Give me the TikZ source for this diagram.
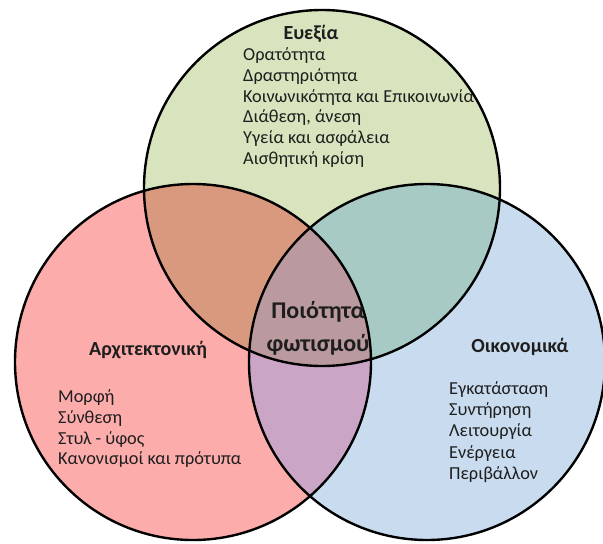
\documentclass[tikz,border=0pt]{standalone}
\usepackage{fontspec}
\setmainfont{Carlito}
\definecolor{gfill}{HTML}{D7E4BD}
\definecolor{rfill}{HTML}{FDACAC}
\definecolor{bfill}{HTML}{C9DCEF}
\definecolor{rgfill}{HTML}{D9997E}
\definecolor{gbfill}{HTML}{A7CAC4}
\definecolor{rbfill}{HTML}{CBA5C6}
\definecolor{allfill}{HTML}{BA9A9E}
\definecolor{txt}{HTML}{1E1E1E}
\tikzset{
  ring/.style={draw=black, line width=2.4pt},
  item/.style={anchor=west, inner sep=0pt, text=txt, font=\fontsize{18.3}{22}\selectfont, text height=0.72em, text depth=0.22em},
  head/.style={anchor=center, inner sep=0pt, text=txt, font=\fontsize{20}{24}\selectfont\bfseries, text height=0.72em, text depth=0.22em},
  core/.style={anchor=center, inner sep=0pt, text=txt, font=\fontsize{24}{28}\selectfont\bfseries, text height=0.72em, text depth=0.22em}
}
\begin{document}
\begin{tikzpicture}[x=1pt,y=-1pt]
\useasboundingbox (0,0) rectangle (603,544);
\fill[white] (0,0) rectangle (603,544);
\coordinate (cT) at (322,188);
\coordinate (cL) at (193,362);
\coordinate (cR) at (427,362);
\def\rad{178pt}
% base fills
\fill[rfill] (cL) circle[radius=\rad];
\fill[bfill] (cR) circle[radius=\rad];
\fill[gfill] (cT) circle[radius=\rad];
% pairwise overlaps
\begin{scope}
  \clip (cT) circle[radius=\rad];
  \fill[rgfill] (cL) circle[radius=\rad];
\end{scope}
\begin{scope}
  \clip (cT) circle[radius=\rad];
  \fill[gbfill] (cR) circle[radius=\rad];
\end{scope}
\begin{scope}
  \clip (cL) circle[radius=\rad];
  \fill[rbfill] (cR) circle[radius=\rad];
\end{scope}
\begin{scope}
  \clip (cT) circle[radius=\rad];
  \clip (cL) circle[radius=\rad];
  \fill[allfill] (cR) circle[radius=\rad];
\end{scope}
% outlines
\draw[ring] (cT) circle[radius=\rad];
\draw[ring] (cL) circle[radius=\rad];
\draw[ring] (cR) circle[radius=\rad];
% top: wellbeing
\node[head] (hT) at (311,37) {Ευεξία};
\foreach \t [count=\i] in {Ορατότητα, Δραστηριότητα, Κοινωνικότητα και Επικοινωνία, {Διάθεση, άνεση}, Υγεία και ασφάλεια, Αισθητική κρίση}
  \node[item] (tT\i) at (243,{58+20.8*(\i-1)}) {\t};
% left: architecture
\node[head] (hL) at (148,353) {Αρχιτεκτονική};
\foreach \t [count=\i] in {Μορφή, Σύνθεση, Στυλ - ύφος, Κανονισμοί και πρότυπα}
  \node[item] (tL\i) at (58,{400+20.8*(\i-1)}) {\t};
% right: economics
\node[head] (hR) at (520,350) {Οικονομικά};
\foreach \t [count=\i] in {Εγκατάσταση, Συντήρηση, Λειτουργία, Ενέργεια, Περιβάλλον}
  \node[item] (tR\i) at (449,{392+21.2*(\i-1)}) {\t};
% centre
\node[core] (c1) at (318,316) {Ποιότητα};
\node[core] (c2) at (318,349) {φωτισμού};
\end{tikzpicture}
\end{document}
